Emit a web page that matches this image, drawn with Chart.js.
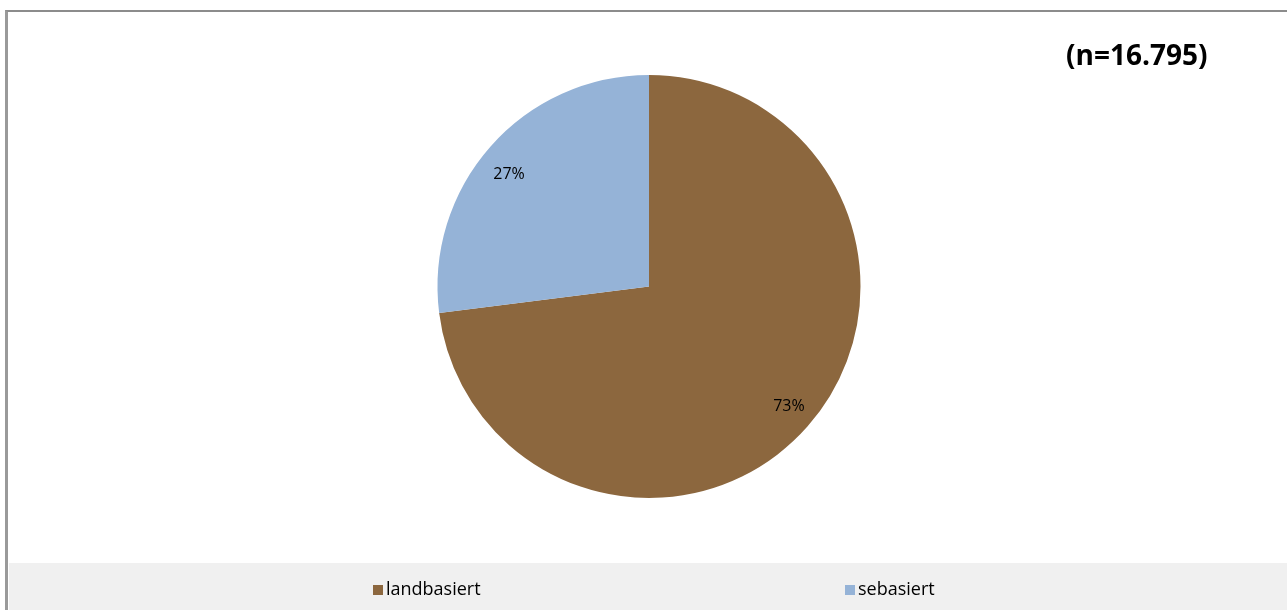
<!DOCTYPE html>
<html lang="de">
<head>
    <meta charset="UTF-8">
    <title>landbasiert / sebasiert</title>
    <script src="https://cdn.jsdelivr.net/npm/chart.js"></script>
    <style>
        html, body {
            margin: 0;
            padding: 0;
            background: #fff;
            overflow: hidden;
        }
        .rahmen {
            position: absolute;
            left: 5px;
            top: 10px;
            width: 1282px;
            height: 600px;
            border-top: 2px solid #8c8c8c;
            border-left: 3px solid #9a9a9a;
            box-sizing: border-box;
        }
        #kreis {
            position: absolute;
            left: 0;
            top: 0;
        }
    </style>
</head>
<body>
    <div class="rahmen"></div>
    <canvas id="kreis" width="1287" height="610"></canvas>

    <script>
        // Daten
        const kategorien = ['landbasiert', 'sebasiert'];
        const anteile = [73, 27];
        const farben = ['#8c673e', '#95b3d7'];
        const stichprobe = '(n=16.795)';

        const schrift = '"Open Sans", "DejaVu Sans", sans-serif';

        // Prozentwerte in den Segmenten
        const segmentText = {
            id: 'segmentText',
            afterDatasetsDraw(chart) {
                const ctx = chart.ctx;
                const meta = chart.getDatasetMeta(0);
                ctx.save();
                ctx.font = '16px ' + schrift;
                ctx.fillStyle = '#000';
                ctx.textAlign = 'center';
                ctx.textBaseline = 'middle';
                meta.data.forEach((bogen, i) => {
                    const mitte = (bogen.startAngle + bogen.endAngle) / 2 - 0.03;
                    const r = bogen.outerRadius * 0.86;
                    const x = bogen.x + Math.cos(mitte) * r;
                    const y = bogen.y + Math.sin(mitte) * r + 4;
                    ctx.fillText(anteile[i] + '%', x, y);
                });
                ctx.restore();
            }
        };

        // Titel oben rechts und Legende im grauen Band unten
        const rahmenText = {
            id: 'rahmenText',
            beforeDraw(chart) {
                const ctx = chart.ctx;
                ctx.save();
                ctx.fillStyle = '#f0f0f0';
                ctx.fillRect(9, 563, chart.width - 9, chart.height - 563);
                ctx.restore();
            },
            afterDraw(chart) {
                const ctx = chart.ctx;
                ctx.save();
                ctx.font = 'bold 28px ' + schrift;
                ctx.fillStyle = '#000';
                ctx.textAlign = 'left';
                ctx.textBaseline = 'middle';
                ctx.fillText(stichprobe, 1066, 57);

                const positionen = [373, 845];
                ctx.font = '18px ' + schrift;
                kategorien.forEach((name, i) => {
                    const x = positionen[i];
                    ctx.fillStyle = farben[i];
                    ctx.fillRect(x, 585, 10, 10);
                    ctx.fillStyle = '#000';
                    ctx.fillText(name, x + 13, 590);
                });
                ctx.restore();
            }
        };

        new Chart(document.getElementById('kreis'), {
            type: 'pie',
            data: {
                labels: kategorien,
                datasets: [{
                    data: anteile,
                    backgroundColor: farben,
                    borderWidth: 0
                }]
            },
            options: {
                responsive: false,
                animation: false,
                layout: {
                    padding: { top: 75, bottom: 112, left: 11, right: 0 }
                },
                plugins: {
                    legend: { display: false },
                    tooltip: { enabled: false }
                }
            },
            plugins: [segmentText, rahmenText]
        });
    </script>
</body>
</html>
